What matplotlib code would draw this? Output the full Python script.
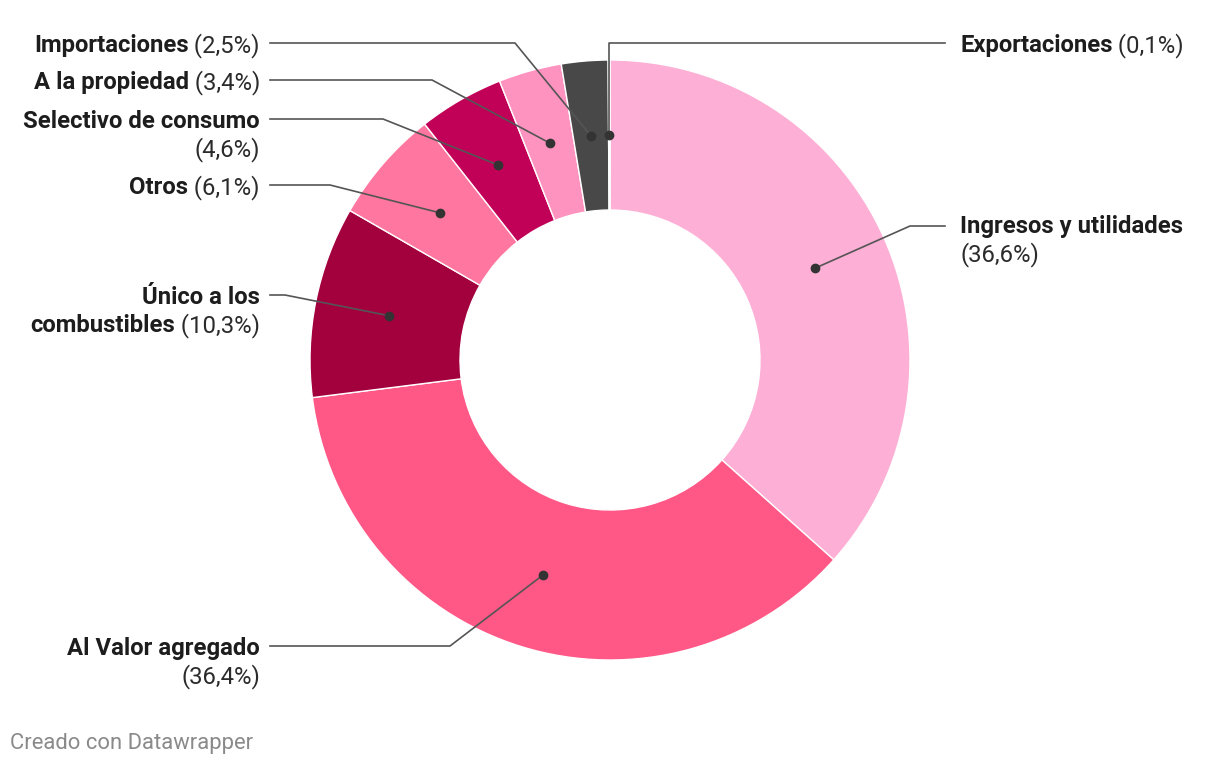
import matplotlib.pyplot as plt
import numpy as np

categories = ["Ingresos y utilidades", "Al Valor agregado", "Único a los combustibles",
              "Otros", "Selectivo de consumo", "A la propiedad", "Importaciones", "Exportaciones"]
shares = [36.6, 36.4, 10.3, 6.1, 4.6, 3.4, 2.5, 0.1]
colors = ["#fdafd6", "#ff5887", "#a3003e", "#ff77a0", "#c10057", "#ff93bf", "#484848", "#9a9a9a"]

# label layout: side, first line y (px from top), elbow x, line break mode
layout = [
    ("right", 225, 910, "pct"),
    ("left", 647, 450, "pct"),
    ("left", 296, 285, 11),
    ("left", 186, 330, None),
    ("left", 120, 383, "pct"),
    ("left", 81, 432, None),
    ("left", 44, 515, None),
    ("right", 44, None, None),
]

W, H = 1220, 766
plt.rcParams['font.family'] = ['Roboto', 'DejaVu Sans']
fig = plt.figure(figsize=(W / 100, H / 100), dpi=100)
ax = fig.add_axes([0, 0, 1, 1])

cx, cy, R = 610, H - 360, 300
wedges, _ = ax.pie(shares, colors=colors, startangle=90, counterclock=False,
                   radius=R, center=(cx, cy), frame=True,
                   wedgeprops=dict(width=150, edgecolor='white', linewidth=1))
ax.set_xlim(0, W)
ax.set_ylim(0, H)
ax.set_aspect('auto')
ax.axis('off')

renderer = fig.canvas.get_renderer()
fs = 17.2
line_h = 28
bold_c = "#1d1d1d"
reg_c = "#2b2b2b"
lc = "#555555"


def width(t):
    return t.get_window_extent(renderer).width


for w, name, v, (side, ly, ex, mode) in zip(wedges, categories, shares, layout):
    mid = np.deg2rad((w.theta1 + w.theta2) / 2)
    dx = cx + 225 * np.cos(mid)
    dy = cy + 225 * np.sin(mid)
    pct = "(" + f"{v:.1f}".replace(".", ",") + "%)"
    if mode == "pct":
        lines = [(name, ""), ("", pct)]
    elif isinstance(mode, int):
        lines = [(name[:mode], ""), (name[mode + 1:], " " + pct)]
    else:
        lines = [(name, " " + pct)]

    y0 = H - ly
    if side == "left":
        ax.plot([270, ex, dx], [y0 + 1, y0 + 1, dy], color=lc, lw=1.2, solid_joinstyle='miter')
        for i, (b, r) in enumerate(lines):
            yy = y0 - 1.5 - i * line_h
            xr = 260
            if r:
                t = ax.text(xr, yy, r, ha='right', va='center', fontsize=fs, color=reg_c)
                xr -= width(t)
            if b:
                ax.text(xr, yy, b, ha='right', va='center', fontsize=fs,
                        fontweight='bold', color=bold_c)
    else:
        if ex is None:
            ax.plot([945, dx, dx], [y0 + 1, y0 + 1, dy], color=lc, lw=1.2)
        else:
            ax.plot([945, ex, dx], [y0 - 1, y0 - 1, dy], color=lc, lw=1.2)
        for i, (b, r) in enumerate(lines):
            yy = y0 - 1.5 - i * line_h
            xl = 960
            if b:
                t = ax.text(xl, yy, b, ha='left', va='center', fontsize=fs,
                            fontweight='bold', color=bold_c)
                xl += width(t)
            if r:
                ax.text(xl, yy, r, ha='left', va='center', fontsize=fs, color=reg_c)
    ax.plot(dx, dy, 'o', color="#333333", markersize=6)

ax.text(10, H - 744, "Creado con Datawrapper", ha='left', va='center',
        fontsize=15.8, color="#8a8a8a")

fig.savefig("out.png", dpi=100)
